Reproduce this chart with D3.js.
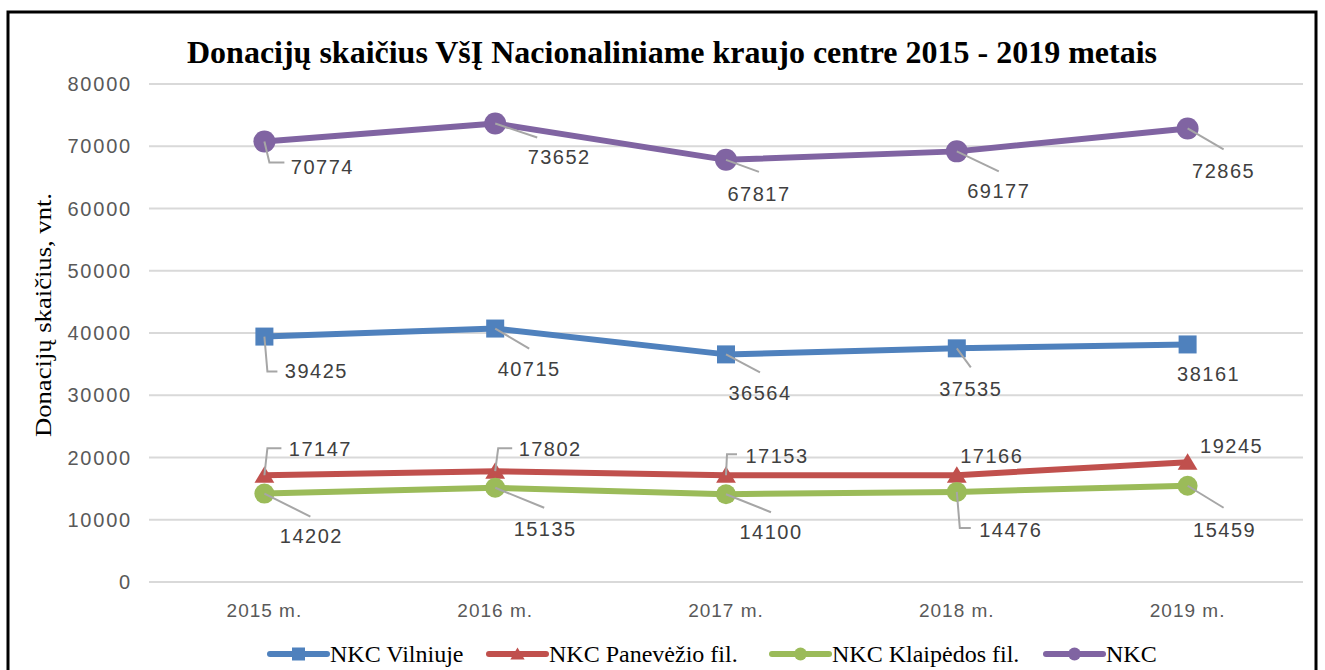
<!DOCTYPE html>
<html>
<head>
<meta charset="utf-8">
<script src="https://cdn.jsdelivr.net/npm/d3@7"></script>
<style>
  body { margin: 0; background: #fff; }
  .tick-lbl { font-family: 'Liberation Sans', Arial, sans-serif; fill: #595959; }
  .val { font-family: 'Liberation Sans', Arial, sans-serif; fill: #404040; }
  .serif { font-family: 'Liberation Serif', 'Times New Roman', serif; fill: #000; }
</style>
</head>
<body>
<div id="vizcont"></div>
<script>
// data
var years = ["2015 m.", "2016 m.", "2017 m.", "2018 m.", "2019 m."];
var yTicks = [0, 10000, 20000, 30000, 40000, 50000, 60000, 70000, 80000];
var seriesNames = ["NKC Vilniuje", "NKC Panevėžio fil.", "NKC Klaipėdos fil.", "NKC"];
var vilnius    = [39425, 40715, 36564, 37535, 38161];
var panevezys  = [17147, 17802, 17153, 17166, 19245];
var klaipeda   = [14202, 15135, 14100, 14476, 15459];
var nkc        = [70774, 73652, 67817, 69177, 72865];

var colors  = ["#4f81bd", "#c0504d", "#9bbb59", "#8064a2"];
var markers = ["square", "triangle", "circle", "circle"];
var markerSize = [18, 18, 20, 22];
var legendX = [270, 489, 772, 1046];

// label placement relative to the point: [label dx, label dy, leader points...]
var labelPos = [
  [[52, 34, [3, 35], [13, 35]], [34, 40, [34, 20]], [34, 38, [34, 18]], [14, 40, [14, 19]], [21, 29]],
  [[56, -26, [3, -27], [17, -27]], [55, -22, [3, -23], [17, -23]], [51, -19, [1, -21], [11, -21]], [35, -19], [44, -16]],
  [[47, 42, [46, 23]], [50, 41, [49, 20]], [45, 38, [45, 18]], [54, 38, [3, 36], [14, 36]], [37, 44, [36, 22]]],
  [[58, 25, [5, 21], [20, 21]], [64, 33, [42, 14]], [33, 34, [33, 12]], [42, 39, [42, 20]], [36, 42, [36, 21]]]
];

var allSeries = [vilnius, panevezys, klaipeda, nkc];

var W = 1325, H = 670;
var margin = {top: 84, left: 149, right: 22, bottom: 88};
var width = W - margin.left - margin.right;
var height = H - margin.top - margin.bottom;

var svg = d3.select("#vizcont").append("svg")
    .attr("width", W).attr("height", H);

// frame
svg.append("rect")
   .attr("x", 8).attr("y", 12).attr("width", 1308).attr("height", 700)
   .attr("fill", "none").attr("stroke", "#000").attr("stroke-width", 3);

var g = svg.append("g").attr("transform", "translate(" + margin.left + "," + margin.top + ")");

var x = d3.scalePoint().domain(years).range([0, width]).padding(0.5);
var y = d3.scaleLinear().domain([0, 80000]).range([height, 0]);

// gridlines
g.selectAll(".grid").data(yTicks).enter().append("line")
  .attr("x1", 0).attr("x2", width)
  .attr("y1", function(d) { return y(d); }).attr("y2", function(d) { return y(d); })
  .attr("stroke", "#d9d9d9").attr("stroke-width", 2);

// y tick labels
g.selectAll(".ytl").data(yTicks).enter().append("text")
  .attr("class", "tick-lbl")
  .attr("x", -17).attr("y", function(d) { return y(d); })
  .attr("dy", "0.36em").attr("text-anchor", "end")
  .style("font-size", "20px").style("letter-spacing", "1.8px")
  .text(function(d) { return d; });

// x labels
g.selectAll(".xtl").data(years).enter().append("text")
  .attr("class", "tick-lbl")
  .attr("x", function(d) { return x(d); }).attr("y", height + 28)
  .attr("dy", "0.36em").attr("text-anchor", "middle")
  .style("font-size", "19px").style("letter-spacing", "1px")
  .text(function(d) { return d; });

// title
svg.append("text").attr("class", "serif")
   .attr("x", 672).attr("y", 63).attr("text-anchor", "middle")
   .style("font-family", "'Liberation Serif', serif")
   .style("font-size", "31px").style("font-weight", "bold")
   .attr("textLength", 970).attr("lengthAdjust", "spacingAndGlyphs")
   .text("Donacijų skaičius VšĮ Nacionaliniame kraujo centre 2015 - 2019 metais");

// y axis title
svg.append("text").attr("class", "serif")
   .attr("transform", "translate(51,315) rotate(-90)")
   .attr("text-anchor", "middle")
   .style("font-family", "'Liberation Serif', serif")
   .style("font-size", "23px")
   .attr("textLength", 244).attr("lengthAdjust", "spacingAndGlyphs")
   .text("Donacijų skaičius, vnt.");

function drawMarker(sel, type, color, size) {
  if (type === "square") {
    sel.append("rect").attr("x", -size / 2).attr("y", -size / 2)
       .attr("width", size).attr("height", size).attr("fill", color);
  } else if (type === "triangle") {
    sel.append("path").attr("d", "M0," + (-size * 0.5) + "L" + (size * 0.55) + "," + (size * 0.42) + "L" + (-size * 0.55) + "," + (size * 0.42) + "Z")
       .attr("fill", color);
  } else {
    sel.append("circle").attr("r", size / 2).attr("fill", color);
  }
}

var line = d3.line()
  .x(function(d, i) { return x(years[i]); })
  .y(function(d) { return y(d); });

allSeries.forEach(function(vals, s) {
  g.append("path").datum(vals)
    .attr("d", line).attr("fill", "none")
    .attr("stroke", colors[s]).attr("stroke-width", 6)
    .attr("stroke-linejoin", "round").attr("stroke-linecap", "round");
});

allSeries.forEach(function(vals, s) {
  vals.forEach(function(v, i) {
    var px = x(years[i]), py = y(v);
    var m = g.append("g").attr("transform", "translate(" + px + "," + py + ")");
    drawMarker(m, markers[s], colors[s], markerSize[s]);
  });
});

// leaders and value labels
allSeries.forEach(function(vals, s) {
  vals.forEach(function(v, i) {
    var px = x(years[i]), py = y(v);
    var lp = labelPos[s][i];
    if (lp.length > 2) {
      var pts = [[px, py]];
      for (var k = 2; k < lp.length; k++) pts.push([px + lp[k][0], py + lp[k][1]]);
      g.append("path").attr("d", d3.line()(pts))
        .attr("fill", "none").attr("stroke", "#a6a6a6").attr("stroke-width", 2);
    }
    g.append("text").attr("class", "val")
      .attr("x", px + lp[0]).attr("y", py + lp[1])
      .attr("dy", "0.36em").attr("text-anchor", "middle")
      .style("font-size", "20px").style("letter-spacing", "1.5px")
      .text(v);
  });
});

// legend
seriesNames.forEach(function(name, s) {
  var item = svg.append("g").attr("transform", "translate(" + legendX[s] + ",654)");
  item.append("line").attr("x1", 0).attr("x2", 57).attr("y1", 0).attr("y2", 0)
    .attr("stroke", colors[s]).attr("stroke-width", 6).attr("stroke-linecap", "round");
  var mk = item.append("g").attr("transform", "translate(28.5,0)");
  drawMarker(mk, markers[s], colors[s], 13);
  item.append("text").attr("class", "serif")
    .attr("x", 60).attr("y", 0).attr("dy", "0.33em")
    .style("font-family", "'Liberation Serif', serif")
    .style("font-size", "24px").text(name);
});
</script>
</body>
</html>
